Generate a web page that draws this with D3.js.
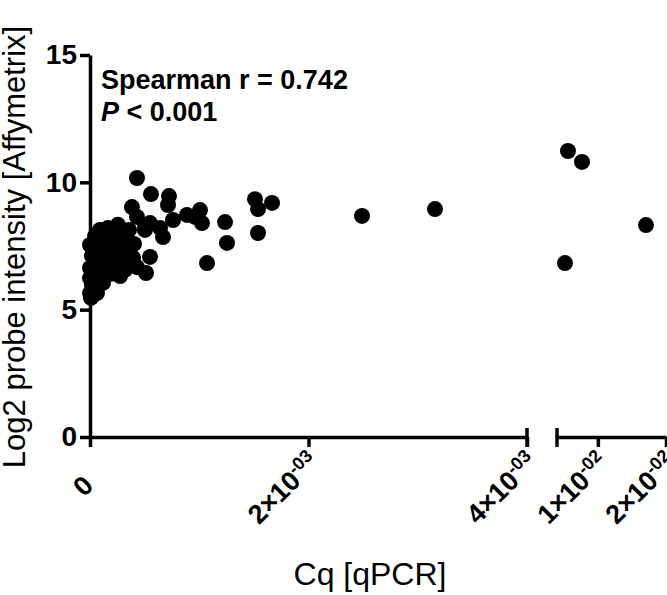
<!DOCTYPE html>
<html>
<head>
<meta charset="utf-8">
<script src="https://cdn.jsdelivr.net/npm/d3@7"></script>
<style>
  body { margin: 0; background: #fff; }
  svg text { font-family: "Liberation Sans", Arial, sans-serif; fill: #000; }
</style>
</head>
<body>
<svg id="chart" width="667" height="595"></svg>
<script>
// Cq values (qPCR, relative quantity) and log2 probe intensities
const cqVals = [
  0, 0.000018, 0.000046, 0, 0.000064, 0.000119, 0, 0.000055, 0.000128, 0.000183,
  0.000201, 0.000018, 0.000082, 0.000156, 0.000229, 0.000284, 0.00032, 0, 0.000064, 0.000137,
  0.000211, 0.000275, 0.000348, 0.000394, 0.000046, 0.000119, 0.000192, 0.000265, 0.000339, 0.000403,
  0.000165, 0.000256, 0.000357, 0.000092, 0.000009, 0.000064, 0.000275, 0.000366,
  0.00043, 0.000558, 0.000723, 0.000714, 0.000384, 0.00043, 0.000503, 0.000549, 0.000641, 0.00076,
  0.000888, 0.001007, 0.001025, 0.000961, 0.001236, 0.001254, 0.001071, 0.00151, 0.001538, 0.001666,
  0.001538, 0.00249, 0.003158, 0.000668, 0.000513, 0.000549, 0.00043, 0.000503,
  0.00561, 0.00767, 0.01706, 0.00517
];
const log2Vals = [
  5.65, 5.97, 5.77, 6.24, 6.24, 6.05, 6.64, 6.71, 6.56, 6.40,
  6.75, 7.11, 7.15, 7.03, 7.11, 6.87, 6.56, 7.54, 7.50, 7.58,
  7.46, 7.42, 7.26, 7.03, 7.89, 7.89, 7.81, 7.89, 7.74, 7.58,
  8.21, 8.33, 8.13, 8.13, 5.46, 5.65, 6.32, 6.79,
  10.17, 9.54, 9.46, 9.11, 9.03, 8.64, 8.32, 8.40, 8.21, 8.52,
  8.72, 8.91, 8.40, 8.64, 8.44, 7.62, 6.83, 9.34, 8.95, 9.19,
  8.01, 8.68, 8.95, 7.85, 6.44, 7.07, 6.67, 8.13,
  11.23, 10.8, 8.32, 6.83
];

const yTicks = [0, 5, 10, 15];
const xBreak = 0.004;
const xLeftTicks = [0, 0.002, 0.004];
const xLeftMant = ["0", "2×10", "4×10"];
const xLeftExp = ["", "-03", "-03"];
const xRightTicks = [0.01, 0.02];
const xRightMant = ["1×10", "2×10"];
const xRightExp = ["-02", "-02"];

const svg = d3.select("#chart");
const y = d3.scaleLinear().domain([0, 15]).range([437, 55]);
const xL = d3.scaleLinear().domain([0, xBreak]).range([90, 527]);
const xR = d3.scaleLinear().domain([xBreak, 0.02]).range([557, 666]);
const xPos = v => v <= xBreak ? xL(v) : xR(v);

const sw = 3.5;

// y axis
const gy = svg.append("g").attr("transform", "translate(90,0)")
  .call(d3.axisLeft(y).tickValues(yTicks).tickSize(10).tickSizeOuter(0).tickPadding(3));
gy.selectAll("path, line").attr("stroke", "#000").attr("stroke-width", sw);
gy.selectAll("text").attr("font-size", 28).attr("font-weight", "bold")
  .attr("font-family", "Liberation Sans, Arial, sans-serif");

// x axis, two segments
function xSeg(scale, ticks, mant, exp) {
  const g = svg.append("g").attr("transform", `translate(0,${y(0)})`)
    .call(d3.axisBottom(scale).tickValues(ticks).tickSize(10).tickSizeOuter(0).tickFormat(""));
  g.selectAll("path, line").attr("stroke", "#000").attr("stroke-width", sw);
  const t = g.selectAll(".lbl").data(ticks).join("text")
    .attr("class", "lbl")
    .attr("text-anchor", "end")
    .attr("font-size", 27).attr("font-weight", "bold")
    .attr("transform", (d, i) => `translate(${scale(d) + (exp[i] ? 12 : 5)},${exp[i] ? 27 : 50}) rotate(-45)`);
  t.append("tspan").text((d, i) => mant[i]);
  t.append("tspan").attr("font-size", 18).attr("dy", "-0.55em").text((d, i) => exp[i]);
  return g;
}
xSeg(xL, xLeftTicks, xLeftMant, xLeftExp);
xSeg(xR, xRightTicks, xRightMant, xRightExp);

// break caps
svg.append("g").selectAll("line").data([xL(xBreak), xR(xBreak)]).join("line")
  .attr("x1", d => d).attr("x2", d => d)
  .attr("y1", y(0) - 9).attr("y2", y(0) + 10)
  .attr("stroke", "#000").attr("stroke-width", sw);

// points
svg.append("g").selectAll("circle").data(cqVals).join("circle")
  .attr("cx", d => xPos(d))
  .attr("cy", (d, i) => y(log2Vals[i]))
  .attr("r", 8)
  .attr("fill", "#000");

// annotation
svg.append("text").attr("x", 101).attr("y", 89)
  .attr("font-size", 27).attr("font-weight", "bold")
  .text("Spearman r = 0.742");
const pt = svg.append("text").attr("x", 101).attr("y", 121)
  .attr("font-size", 27).attr("font-weight", "bold");
pt.append("tspan").attr("font-style", "italic").text("P");
pt.append("tspan").text(" < 0.001");

// axis titles
svg.append("text").attr("x", 370).attr("y", 585).attr("text-anchor", "middle")
  .attr("font-size", 32).text("Cq [qPCR]");
svg.append("text").attr("transform", "translate(25,247) rotate(-90)")
  .attr("text-anchor", "middle").attr("font-size", 31)
  .text("Log2 probe intensity [Affymetrix]");
</script>
</body>
</html>
